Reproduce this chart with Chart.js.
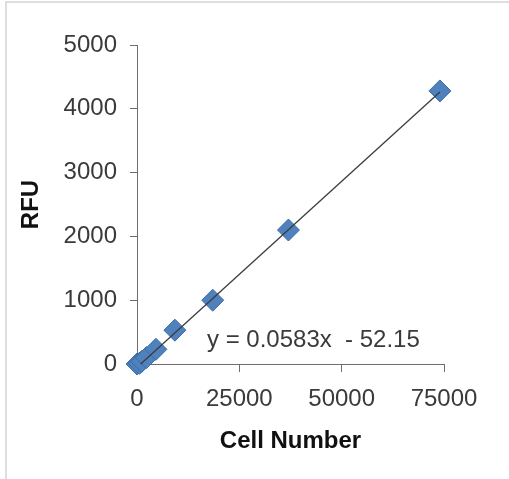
<!DOCTYPE html>
<html>
<head>
<meta charset="utf-8">
<style>
  body { margin: 0; background: #fff; }
  #wrap { position: relative; width: 509px; height: 479px; }
  #frame { position: absolute; left: 5px; top: 1px; width: 504px; height: 478px;
           border-top: 2px solid #dedede; border-left: 2px solid #dedede; box-sizing: border-box; }
  #chart { position: absolute; left: 0; top: 0; }
</style>
</head>
<body>
<div id="wrap">
  <div id="frame"></div>
  <canvas id="chart" width="509" height="479"></canvas>
</div>

<script src="https://cdn.jsdelivr.net/npm/chart.js@4/dist/chart.umd.min.js"></script>
<script>
  // serial dilution
  const cellNumbers = [0, 578, 1156, 2312, 4625, 9250, 18500, 37000, 74000]
  const rfuValues = [0, 10, 40, 100, 230, 530, 1000, 2100, 4280]

  // linear trendline ends (y = 0.0583x - 52.15)
  const trendX = [900, 74000]
  const trendY = [0, 4262]

  const xTicks = [0, 25000, 50000, 75000]
  const yTicks = [0, 1000, 2000, 3000, 4000, 5000]

  const equationText = "y = 0.0583x  - 52.15"

  const textColor = "#3a3a3a"
  const axisColor = "#6e6e6e"
  const font = "'Liberation Sans', Arial, sans-serif"

  const points = cellNumbers.map((x, i) => ({ x: x, y: rfuValues[i] }))
  const trend = trendX.map((x, i) => ({ x: x, y: trendY[i] }))

  const equationLabel = {
    id: "equationLabel",
    afterDraw(chart) {
      const ctx = chart.ctx
      ctx.save()
      ctx.font = "24px " + font
      ctx.fillStyle = textColor
      ctx.textAlign = "left"
      ctx.textBaseline = "middle"
      ctx.fillText(equationText, 207, 340)
      ctx.restore()
    }
  }

  function fixedTicks(list) {
    return scale => { scale.ticks = list.map(v => ({ value: v })) }
  }

  const ctx = document.getElementById("chart").getContext("2d")
  new Chart(ctx, {
    type: "scatter",
    data: {
      datasets: [
        {
          data: trend,
          showLine: true,
          pointRadius: 0,
          borderColor: "#3c3c3c",
          borderWidth: 1.3,
          clip: false,
          order: 0
        },
        {
          data: points,
          pointStyle: "rectRot",
          pointRadius: 11,
          backgroundColor: "#4f81bd",
          borderColor: "#3d6ca6",
          borderWidth: 1,
          clip: false,
          order: 1
        }
      ]
    },
    options: {
      responsive: false,
      animation: false,
      layout: { padding: { left: 10, right: 65, top: 45, bottom: 20 } },
      plugins: { legend: { display: false }, tooltip: { enabled: false } },
      scales: {
        x: {
          type: "linear",
          min: 0,
          max: 75000,
          afterBuildTicks: fixedTicks(xTicks),
          afterFit: s => { s.height = 95 },
          grid: { drawOnChartArea: false, tickLength: 8, color: axisColor },
          border: { color: axisColor, width: 1 },
          ticks: {
            color: textColor,
            padding: 13,
            maxRotation: 0,
            font: { family: font, size: 24 },
            callback: v => String(v)
          },
          title: {
            display: true,
            text: "Cell Number",
            color: "#111",
            padding: { top: 0, bottom: 3 },
            font: { family: font, size: 24, weight: "bold" }
          }
        },
        y: {
          min: 0,
          max: 5000,
          afterBuildTicks: fixedTicks(yTicks),
          afterFit: s => { s.width = 127 },
          grid: { drawOnChartArea: false, tickLength: 7, color: axisColor },
          border: { color: axisColor, width: 1 },
          ticks: {
            color: textColor,
            padding: 13,
            font: { family: font, size: 24 },
            callback: v => String(v)
          },
          title: {
            display: true,
            text: "RFU",
            color: "#111",
            padding: { top: 7, bottom: 0 },
            font: { family: font, size: 24, weight: "bold" }
          }
        }
      }
    },
    plugins: [equationLabel]
  })
</script>
</body>
</html>
